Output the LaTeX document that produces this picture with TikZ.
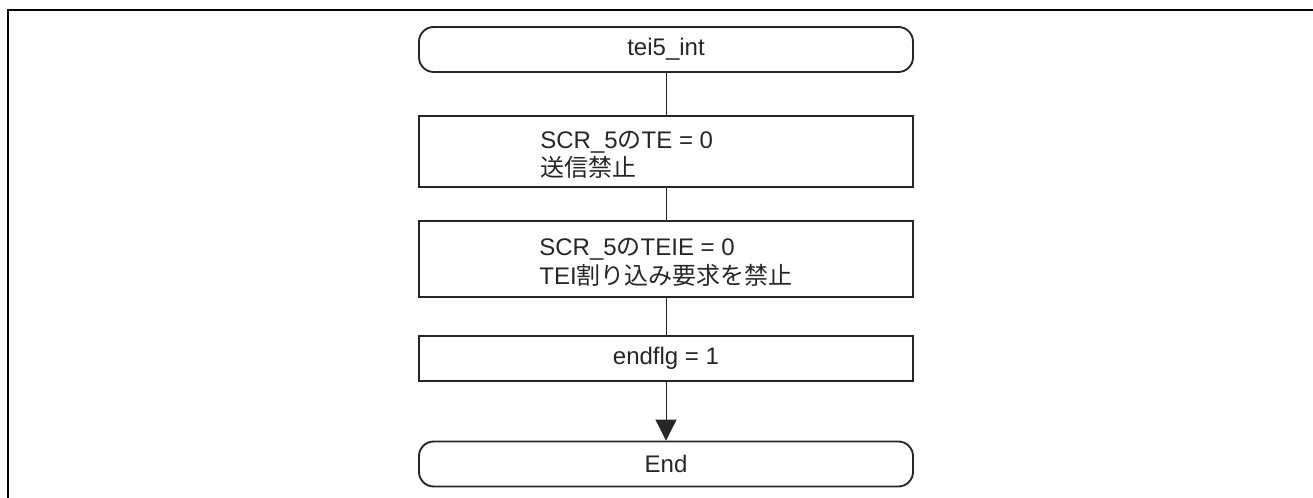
\documentclass[tikz,border=0pt]{standalone}
\usepackage{fontspec}
\setmainfont{Liberation Sans}
\newfontfamily\jp{Noto Sans CJK JP}
\usetikzlibrary{arrows.meta}
\begin{document}
\begin{tikzpicture}[x=0.75pt,y=-0.75pt,
  every node/.style={font=\fontsize{18pt}{21.3pt}\selectfont, text=black!85},
  term/.style={draw=black!85, line width=1.4pt, rounded corners=11pt, minimum width=494*0.75pt, minimum height=45*0.75pt, inner sep=0pt},
  proc/.style={draw=black!85, line width=1.4pt, minimum width=494*0.75pt, inner sep=0pt},
  txt/.style={anchor=west, inner sep=0pt, align=left},
  conn/.style={draw=black!85, line width=0.75pt},
  frame/.style={draw=black, line width=1.8pt}]
\useasboundingbox (0,0) rectangle (1313,498);
\draw[frame] (8,498) -- (8,10) -- (1313,10);
\node[term] (start) at (666,49.5) {tei5\_int};
\node[proc, minimum height=71*0.75pt] (b1) at (666,151.5) {};
\node[txt] (b1t) at ([xshift=122*0.75pt, yshift=-3.5*0.75pt]b1.west) {SCR\_5{\jp の}TE = 0\\{\jp 送信禁止}};
\node[proc, minimum height=76*0.75pt] (b2) at (666,259) {};
\node[txt] (b2t) at ([xshift=121*0.75pt, yshift=-3.5*0.75pt]b2.west) {SCR\_5{\jp の}TEIE = 0\\TEI{\jp 割り込み要求を禁止}};
\node[proc, minimum height=45*0.75pt] (b3) at (666,358.5) {endflg = 1};
\node[term] (end) at (666,464) {End};
\draw[conn] (start) -- (b1);
\draw[conn] (b1) -- (b2);
\draw[conn] (b2) -- (b3);
\draw[conn, -{Triangle[length=15.75pt,width=15.75pt]}] (b3) -- (end);
\end{tikzpicture}
\end{document}
